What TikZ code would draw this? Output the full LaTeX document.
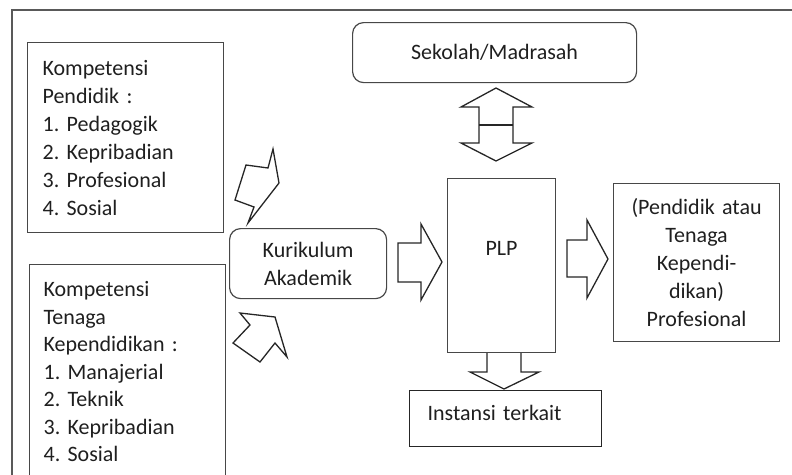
\documentclass[tikz,border=0pt]{standalone}
\usepackage{fontspec}
\setmainfont{Carlito}
\frenchspacing
\tikzset{
  box/.style={draw=black!72, line width=1.2pt, anchor=north west, inner xsep=14pt, inner ysep=0pt,
    text=black!88, font=\fontsize{22}{28}\selectfont},
  roundbox/.style={box, rounded corners=11pt},
  lbl/.style={text=black!88, font=\fontsize{22}{28}\selectfont, inner sep=0pt},
  blockarrow/.style={draw=black!85, line width=1.3pt, line join=miter, fill=white},
  frame/.style={draw=black!65, line width=2.5pt},
}
\begin{document}
\begin{tikzpicture}[x=1pt, y=-1pt]
\path[use as bounding box] (0,0) rectangle (792,474);
\clip (0,0) rectangle (792,474);
% outer frame (cut off right and bottom)
\draw[frame] (12,490) |- (810,10);

% boxes
\node[box, minimum width=196pt, minimum height=190pt, text width=166pt, inner xsep=15pt, align=left]
  (pendidik) at (27,42) {Kompetensi\\Pendidik :\\1. Pedagogik\\2. Kepribadian\\3. Profesional\\4. Sosial};
\node[box, minimum width=196pt, minimum height=214pt, text width=168pt, align=left,
  font=\fontsize{22}{27.5}\selectfont]
  (tenaga) at (29,264) {Kompetensi\\Tenaga\\Kependidikan :\\1. Manajerial\\2. Teknik\\3. Kepribadian\\4. Sosial};
\node[roundbox, minimum width=157pt, minimum height=70pt, text width=141pt, inner xsep=8pt, align=center]
  (kurikulum) at (229,228) {Kurikulum\\Akademik};
\node[roundbox, minimum width=284pt, minimum height=60pt, align=center]
  (sekolah) at (352,22) {Sekolah/Madrasah};
\node[box, minimum width=108pt, minimum height=174pt] (plp) at (447,178) {};
\node[lbl, anchor=base] (plplbl) at ([yshift=-77pt]plp.north) {PLP};
\node[box, minimum width=166pt, minimum height=158pt, text width=150pt, inner xsep=8pt, align=center]
  (profesional) at (613,183) {(Pendidik atau\\Tenaga\\Kependi-\\dikan)\\Profesional};
\node[box, minimum width=192pt, minimum height=56pt, text width=156pt, inner xsep=18pt, align=left,
  text depth=12pt, draw=black!85] (instansi) at (409,390) {Instansi terkait};

% block arrows
\draw[blockarrow] (273,149) -- (279,183) -- (248,223) -- (254,207) -- (235,200)
  -- (246,165) -- (268,168) -- cycle;
\draw[blockarrow] (240,313) -- (275,317) -- (287,357) -- (275,343) -- (260,362)
  -- (233,343) -- (250,325) -- cycle;
\draw[blockarrow] (398,243) -- (421,243) -- (421,224) -- (442,262) -- (421,300)
  -- (421,282) -- (398,282) -- cycle;
\draw[blockarrow] (567,240) -- (587,240) -- (587,220) -- (608,259) -- (587,298)
  -- (587,277) -- (567,277) -- cycle;
\draw[blockarrow] (496,88) -- (532,107) -- (513,107) -- (513,143) -- (532,143)
  -- (496,161) -- (461,143) -- (479,143) -- (479,107) -- (461,107) -- cycle;
\draw[blockarrow] (479,125) -- (513,125);
\draw[blockarrow] (487,353) -- (487,372) -- (470,372) -- (504,389) -- (539,372)
  -- (521,372) -- (521,353);
\end{tikzpicture}
\end{document}
